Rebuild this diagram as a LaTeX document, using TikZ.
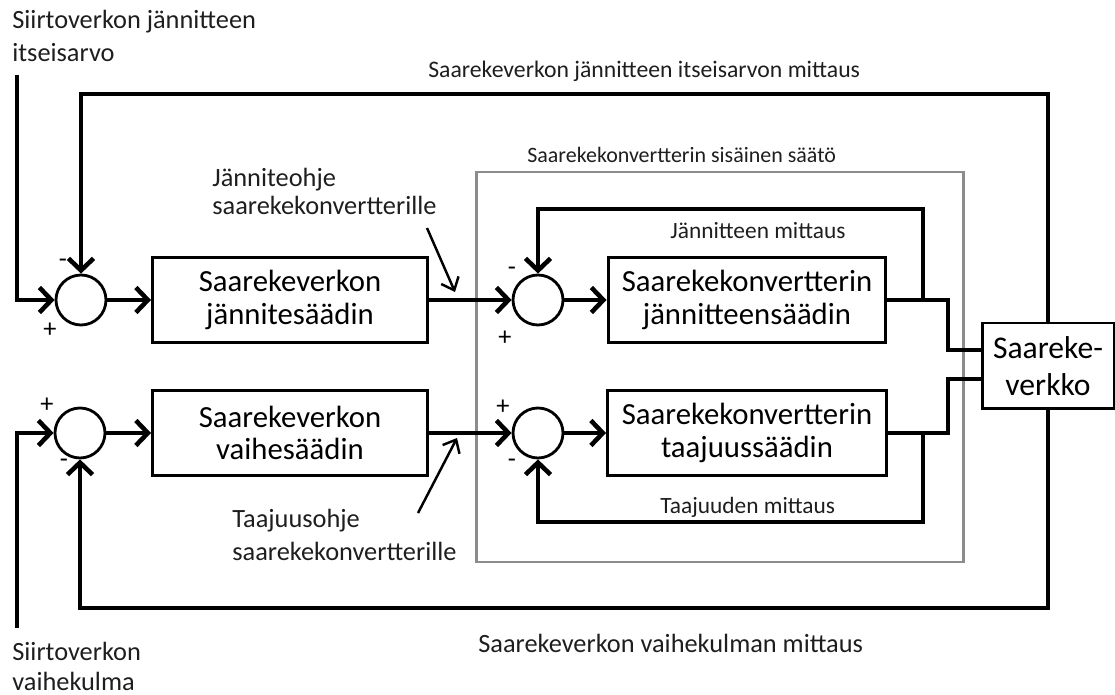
\documentclass[tikz,border=0pt]{standalone}
\usepackage{fontspec}
\setmainfont{Carlito}
\usetikzlibrary{arrows.meta,calc,positioning}

\begin{document}
\begin{tikzpicture}[x=0.02cm,y=-0.02cm,
    block/.style={draw,line width=1.7pt,minimum width=5.5cm,minimum height=1.7cm,
      align=center,font=\fontsize{17.5}{18.5}\selectfont},
    sum/.style={draw,circle,line width=1.6pt,minimum size=1cm,inner sep=0pt},
    wire/.style={line width=2.6pt},
    sig/.style={wire,-{Straight Barb[length=2.4mm,width=5mm]}},
    ptr/.style={line width=1.4pt,-{Straight Barb[length=2.2mm,width=3.8mm]}},
    lbl/.style={align=left,inner sep=0pt,font=\fontsize{15}{19}\selectfont},
    sgn/.style={inner sep=0pt,font=\fontsize{15}{16}\selectfont}]

    % Define colors
    \definecolor{framegray}{RGB}{140,140,140}
    \definecolor{textcol}{RGB}{30,30,30}

    \useasboundingbox (0,0) rectangle (1115,695);

    % Internal control frame
    \draw[framegray,line width=1.7pt] (476,172) rectangle (963,562);
    \node[lbl,anchor=base west,textcol,font=\fontsize{12.5}{15}\selectfont] (innerlbl) at (527,163) {Saarekekonvertterin sisäinen säätö};

    % Summing points and blocks
    \node[sum] (s1) at (81,300) {};
    \node[block] (b1) at (290,300) {Saarekeverkon\\jännitesäädin};
    \node[sum] (s3) at (538,300) {};
    \node[block,minimum width=5.56cm] (b3) at (747,300) {Saarekekonvertterin\\jännitteensäädin};

    \node[sum] (s2) at (80,433) {};
    \node[block] (b2) at (290,433) {Saarekeverkon\\vaihesäädin};
    \node[sum] (s4) at (538,433) {};
    \node[block,minimum width=5.58cm] (b4) at (747,433) {Saarekekonvertterin\\taajuussäädin};

    \node[block,minimum width=2.64cm,minimum height=1.72cm,font=\fontsize{18}{21}\selectfont]
      (net) at (1048,366) {Saareke-\\verkko};

    % Signs
    \node[sgn] at ($(s1)+(-18,-37)$) {-};
    \node[sgn] at ($(s1)+(-31,30)$) {+};
    \node[sgn] at ($(s2)+(-33,-28)$) {+};
    \node[sgn] at ($(s2)+(-16,30)$) {-};
    \node[sgn] at ($(s3)+(-26,-29)$) {-};
    \node[sgn] at ($(s3)+(-33,38)$) {+};
    \node[sgn] at ($(s4)+(-35,-26)$) {+};
    \node[sgn] at ($(s4)+(-26,30)$) {-};

    % Inputs
    \coordinate (in1) at (17,75);
    \coordinate (in2) at (17,628);
    \draw[sig] (in1) |- (s1.west);
    \draw[sig] (in2) |- (s2.west);
    \node[lbl,anchor=base west,textcol] (in1lbl) at (12,62) {Siirtoverkon jännitteen\\itseisarvo};
    \node[lbl,anchor=base west,textcol,font=\fontsize{15}{17}\selectfont] (in2lbl) at (12,690) {Siirtoverkon\\vaihekulma};

    % Forward path
    \draw[sig] (s1) -- (b1);
    \draw[sig] (b1) -- (s3);
    \draw[sig] (s3) -- (b3);
    \draw[sig] (s2) -- (b2);
    \draw[sig] (b2) -- (s4);
    \draw[sig] (s4) -- (b4);

    % Outputs to the network
    \coordinate (j1) at (948,350);
    \coordinate (j2) at (948,379);
    \draw[wire] (b3.east) -| (j1) -- (j1 -| net.west);
    \draw[wire] (b4.east) -| (j2) -- (j2 -| net.west);

    % Inner feedback loops
    \coordinate (tap1) at (923,300);
    \coordinate (fb1) at (923,209);
    \coordinate (tap2) at (923,433);
    \coordinate (fb2) at (923,522);
    \draw[sig] (tap1) -- (fb1) -| (s3.north);
    \draw[sig] (tap2) -- (fb2) -| (s4.south);
    \node[lbl,anchor=base west,textcol,font=\fontsize{13.3}{16}\selectfont] (fb1lbl) at (670,239) {Jännitteen mittaus};
    \node[lbl,anchor=base west,textcol,font=\fontsize{13.3}{16}\selectfont] (fb2lbl) at (660,513) {Taajuuden mittaus};

    % Outer feedback loops
    \coordinate (fb3) at (1048,94);
    \coordinate (fb4) at (1048,608);
    \draw[sig] (net.north) -- (fb3) -| (s1.north);
    \draw[sig] (net.south) -- (fb4) -| (s2.south);
    \node[lbl,anchor=base west,textcol,font=\fontsize{13.5}{16}\selectfont] (fb3lbl) at (428,78) {Saarekeverkon jännitteen itseisarvon mittaus};
    \node[lbl,anchor=base west,textcol] (fb4lbl) at (478,652) {Saarekeverkon vaihekulman mittaus};

    % Reference pointers
    \coordinate (p1) at (427,228);
    \coordinate (p1tip) at (455,292);
    \coordinate (p2) at (418,513);
    \coordinate (p2tip) at (457,438);
    \draw[ptr] (p1) -- (p1tip);
    \draw[ptr] (p2) -- (p2tip);
    \node[lbl,anchor=base west,textcol,font=\fontsize{15}{16}\selectfont] (p1lbl) at (212,215) {Jänniteohje\\saarekekonvertterille};
    \node[lbl,anchor=base west,textcol,font=\fontsize{15}{18.7}\selectfont] (p2lbl) at (232,560) {Taajuusohje\\saarekekonvertterille};
\end{tikzpicture}
\end{document}
